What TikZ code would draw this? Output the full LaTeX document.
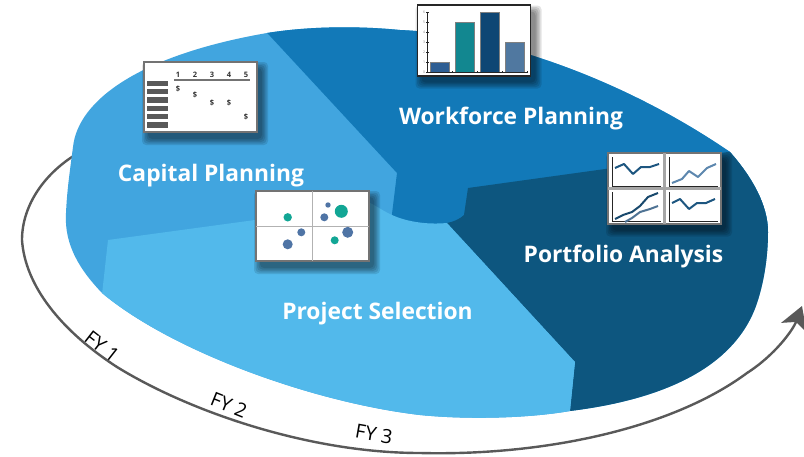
\documentclass[tikz,border=0pt]{standalone}
\usepackage{fontspec}
\setmainfont{Open Sans}
\usepackage{xcolor}
\usepackage{tikz}
\usetikzlibrary{arrows.meta, calc}
\definecolor{capblue}{HTML}{41A5DF}
\definecolor{workblue}{HTML}{1279B8}
\definecolor{portblue}{HTML}{0D567F}
\definecolor{projblue}{HTML}{52B9EB}
\definecolor{arcgray}{HTML}{595959}
\definecolor{dotteal}{HTML}{12A695}
\definecolor{dotblue}{HTML}{4F74A5}
\definecolor{plotdark}{HTML}{1D5680}
\definecolor{plotlight}{HTML}{5D87AE}
\definecolor{barone}{HTML}{2F5F94}
\definecolor{bartwo}{HTML}{128790}
\definecolor{barthree}{HTML}{0E4674}
\definecolor{barfour}{HTML}{5078A0}
\tikzset{%
	card/.style={draw=#1, fill=white, line width=1.3pt, inner sep=0pt, minimum width=113pt, minimum height=70pt},
	label/.style={text=white, font=\fontsize{22.8}{26}\selectfont\bfseries, inner sep=0pt},
	fylabel/.style={text=black, font=\fontsize{19.5}{22}\selectfont, inner sep=0pt},
	fyarc/.style={draw=arcgray, line width=2.4pt, -{Stealth[length=23pt, width=27pt, inset=6pt]}},
	cell/.style={text=black!80, font=\fontsize{7.5}{9}\selectfont\bfseries, inner sep=0pt},
	ticklabel/.style={text=black!50, font=\fontsize{3.5}{4}\selectfont, inner sep=0pt},
	bar/.style={draw=black!50, line width=.8pt, fill=#1},
	axisline/.style={draw=black!85, line width=.7pt},
	trace/.style={draw=#1, line width=2pt, line join=round}
}
\newcommand{\softshadow}[1]{%
	\foreach \w in {14,11,8,5,2}
		\fill[black, opacity=.11, rounded corners=4pt]
			($(#1)+(-51.5-\w/2,-28-\w/2)$) rectangle ($(#1)+(60.5+\w/2,41+\w/2)$);
}

\begin{document}
\begin{tikzpicture}[x=1pt, y=-1pt]
	\useasboundingbox (0,0) rectangle (804,456);
	\fill[white] (0,0) rectangle (804,456);

	% year arrow, runs under the disc
	\coordinate (fystart) at (80,152);
	\coordinate (fyend) at (802,306);
	\draw[fyarc] (fystart) .. controls (45,172) and (22,205) .. (22,240)
		.. controls (25,285) and (60,330) .. (117,367)
		.. controls (190,412) and (310,453) .. (420,453)
		.. controls (540,456) and (670,430) .. (747,373)
		.. controls (775,355) and (793,330) .. (fyend);

	% disc
	\begin{scope}
		\clip (267,33) .. controls (310,26) and (360,26) .. (400,30)
			.. controls (480,33) and (610,70) .. (730,152)
			.. controls (752,177) and (768,205) .. (768,232)
			.. controls (768,260) and (763,285) .. (757,303)
			.. controls (743,345) and (700,395) .. (570,411)
			.. controls (530,418) and (470,420) .. (420,415)
			.. controls (310,402) and (170,350) .. (102,293)
			.. controls (80,270) and (64,245) .. (66,213)
			.. controls (67,190) and (70,170) .. (73,147)
			.. controls (78,100) and (140,55) .. (267,33) -- cycle;
		\fill[capblue] (0,0) rectangle (804,456);
		\fill[workblue] (397,173) -- (245,9) -- (800,9) -- (800,240) -- (392,240) -- (392,214) -- cycle;
		\fill[portblue] (447,223) .. controls (453,222) and (460,219) .. (464,215) -- (468,188) -- (800,142) -- (800,456) -- (566,456) -- (570,411) -- (575,362) -- cycle;
		\fill[projblue] (108,240) -- (255,220) -- (340,207) .. controls (352,203) and (362,201) .. (370,203) .. controls (378,207) and (385,212) .. (392,215) .. controls (405,221) and (425,225) .. (447,223) -- (575,362) -- (570,411) -- (566,456) -- (100,456) -- (97,340) -- cycle;
	\end{scope}

	\node[label] (capital) at (211,176) {Capital Planning};
	\node[label] (workforce) at (511,119) {Workforce Planning};
	\node[label] (portfolio) at (623.5,257) {Portfolio Analysis};
	\node[label] (project) at (377.5,314) {Project Selection};

	\node[fylabel, rotate=-38] (fy1) at (102,346) {FY 1};
	\node[fylabel, rotate=-22] (fy2) at (229,405) {FY 2};
	\node[fylabel, rotate=-10] (fy3) at (374,434) {FY 3};

	% spreadsheet card
	\coordinate (capspot) at (200.5,97);
	\softshadow{capspot}
	\node[card=black!55] (capcard) at (capspot) {};
	\foreach \y in {83.5,91.5,100,108.5,116.5,125}
		\fill[black!65] (147,\y-2.7) rectangle (168,\y+2.7);
	\draw[draw=black!55, line width=2pt] (174,80) -- (250,80);
	\foreach \x [count=\i] in {178,195,212,229,246}
		\node[cell] (num\i) at (\x,75) {\i};
	\foreach \x/\y [count=\i] in {178/89,195/95,212/103,229/103,246/117}
		\node[cell] (cost\i) at (\x,\y) {\$};

	% bar chart card
	\coordinate (barspot) at (474,40.5);
	\softshadow{barspot}
	\node[card=black!85, minimum height=71pt] (barcard) at (barspot) {};
	\draw[bar=barone] (430,72) rectangle (449,62);
	\draw[bar=bartwo] (455,72) rectangle (474,22);
	\draw[bar=barthree] (480,72) rectangle (499,12);
	\draw[bar=barfour] (505,72) rectangle (524,42);
	\draw[axisline] (427,12) -- (427,72) -- (527,72);
	\foreach \n in {0,...,6}{
		\draw[axisline] (426,72-10*\n) -- (428.5,72-10*\n);
		\node[ticklabel] (tick\n) at (424,72-10*\n) {\n};
	}
	\foreach \x in {452,477,502,527}
		\draw[axisline] (\x,71) -- (\x,73);

	% line chart card
	\coordinate (linespot) at (664.5,188.5);
	\softshadow{linespot}
	\node[card=black!55, minimum height=71pt] (linecard) at (linespot) {};
	\draw[draw=black!35, line width=3pt] (664.5,153) -- (664.5,224);
	\draw[draw=black!35, line width=3pt] (608,188.5) -- (721,188.5);
	\foreach \x/\y in {612/186,669/186,612/221,669/221}
		\draw[axisline, line width=.5pt] (\x,\y-29) -- (\x,\y) -- (\x+49,\y);
	\draw[trace=plotdark] (615,168) -- (624,164) -- (633,174) -- (641,167) -- (650,167) -- (659,164);
	\draw[trace=plotlight] (672,183) -- (682,179) -- (689,171) -- (698,177) -- (707,168) -- (716,164);
	\draw[trace=plotdark!85!black] (615,219) -- (623,215) -- (632,212) -- (640,206) -- (648,197) -- (658,193);
	\draw[trace=plotlight!85!black] (625,222) -- (632,218) -- (640,212) -- (650,209) -- (658,206);
	\draw[trace=plotdark] (672,203) -- (680,199) -- (689,209) -- (697,203) -- (706,203) -- (715,199);

	% scatter card
	\coordinate (dotspot) at (312.5,226);
	\softshadow{dotspot}
	\node[card=black!55] (dotcard) at (dotspot) {};
	\draw[draw=black!30, line width=1pt] (312.5,191) -- (312.5,261);
	\draw[draw=black!30, line width=1pt] (256,226) -- (369,226);
	\foreach \x/\y/\r/\c in {287.7/217.3/4.2/dotteal, 328/205/2.7/dotblue, 341.3/211.3/6.5/dotteal, 324.3/217.3/4/dotblue, 301.3/232.3/4/dotblue, 287.7/244.3/5/dotblue, 347.7/232.3/5.5/dotblue, 334.7/240.3/4/dotteal}
		\fill[\c] (\x,\y) circle (\r);
\end{tikzpicture}
\end{document}
